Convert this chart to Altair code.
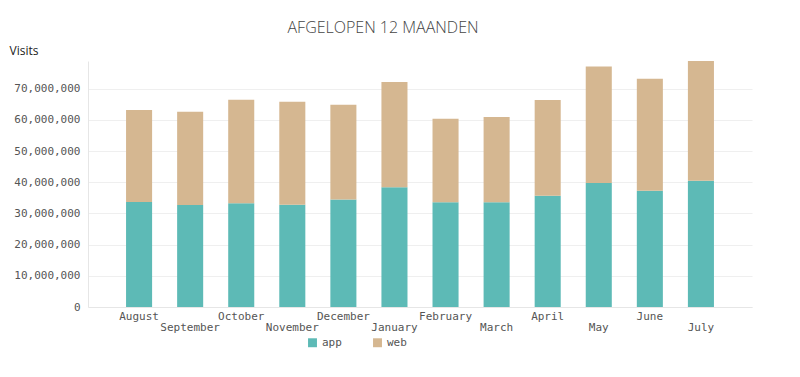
import altair as alt
import pandas as pd

months = ["August", "September", "October", "November", "December", "January",
          "February", "March", "April", "May", "June", "July"]
app = [33.7e6, 32.7e6, 33.3e6, 32.8e6, 34.5e6, 38.4e6, 33.6e6, 33.6e6, 35.7e6, 39.8e6, 37.3e6, 40.5e6]
total = [63.2e6, 62.6e6, 66.5e6, 65.8e6, 64.9e6, 72.2e6, 60.4e6, 60.9e6, 66.4e6, 77.1e6, 73.2e6, 78.9e6]
web = [t - a for t, a in zip(total, app)]
series = ["app", "web"]
colors = ["#5dbab6", "#d5b791"]

rows = []
for i, m in enumerate(months):
    rows.append({"month": m, "type": "app", "visits": app[i], "order": 0})
    rows.append({"month": m, "type": "web", "visits": web[i], "order": 1})
df = pd.DataFrame(rows)

odd = months[1::2]
odd_test = "indexof(" + str(odd).replace("'", '"') + ", datum.value) >= 0"

mono = "DejaVu Sans Mono"

chart = alt.Chart(df).mark_bar().encode(
    x=alt.X("month:N", sort=months,
            scale=alt.Scale(paddingInner=0.49, paddingOuter=0.745),
            axis=alt.Axis(title=None, labelAngle=0, ticks=False, domainColor="#e6e6e6",
                          labelFont=mono, labelFontSize=11, labelColor="#555",
                          labelPadding={"condition": {"test": odd_test, "value": 14}, "value": 3},
                          labelBaseline="top")),
    y=alt.Y("visits:Q", stack="zero",
            scale=alt.Scale(domain=[0, 78.9e6], nice=False),
            axis=alt.Axis(title="Visits", format=",d", values=[0, 1e7, 2e7, 3e7, 4e7, 5e7, 6e7, 7e7],
                          ticks=False, domainColor="#e6e6e6", gridColor="#efefef",
                          labelFont=mono, labelFontSize=11, labelColor="#555", labelPadding=8,
                          titleAngle=0, titleAlign="left", titleBaseline="middle",
                          titleX=-79, titleY=-11, titleFont="Open Sans", titleFontSize=12,
                          titleFontWeight="normal", titleColor="#222")),
    color=alt.Color("type:N", scale=alt.Scale(domain=series, range=colors),
                    legend=alt.Legend(title=None, orient="none", direction="horizontal",
                                      legendX=219, legendY=276, symbolType="square",
                                      symbolSize=80, symbolStrokeWidth=0, columnPadding=30,
                                      labelFont=mono, labelFontSize=11, labelColor="#555")),
    order=alt.Order("order:Q", sort="ascending"),
).properties(
    width=664, height=246,
    title=alt.TitleParams("AFGELOPEN 12 MAANDEN", font="Open Sans", fontSize=16,
                          fontWeight=300, color="#444", offset=8, dx=-37),
    autosize=alt.AutoSizeParams(type="none"),
    padding={"left": 80, "top": 53, "right": 40, "bottom": 60},
).configure_view(stroke=None)

chart.save("out.html", embed_options={"renderer": "svg", "actions": False})
